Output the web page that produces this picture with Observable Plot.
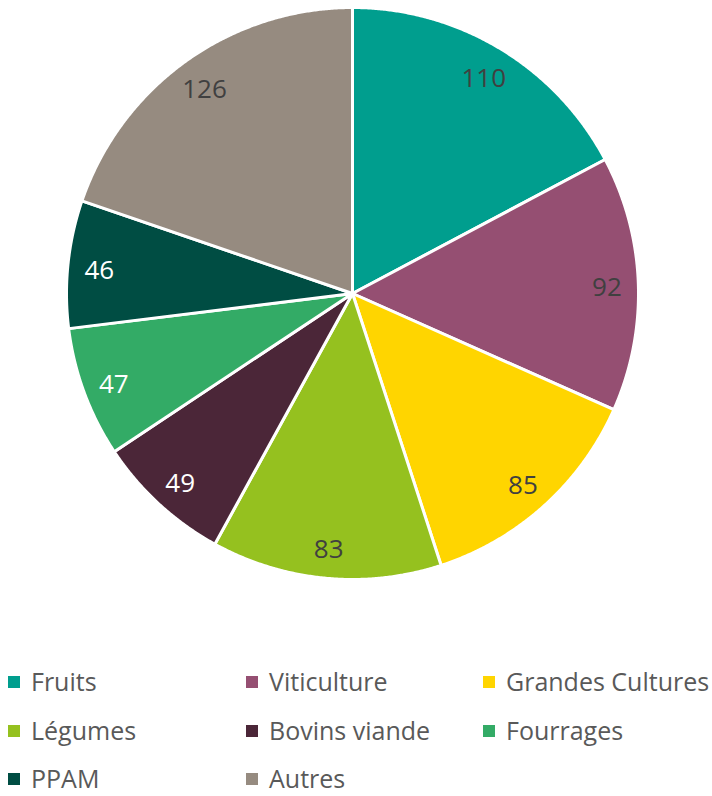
<!DOCTYPE html>
<html>
<head>
<meta charset="utf-8">
<script src="https://cdn.jsdelivr.net/npm/d3@7"></script>
<script src="https://cdn.jsdelivr.net/npm/@observablehq/plot@0.6"></script>
<style>
  body { margin: 0; background: #fff; font-family: "Open Sans", sans-serif; }
  #wrap { position: relative; width: 712px; height: 796px; overflow: hidden; }
  #legend { position: absolute; left: 0; top: 0; width: 712px; }
  .item { position: absolute; display: flex; align-items: center; font-size: 25px; color: #595959; white-space: nowrap; line-height: 1; }
  .sw { width: 12px; height: 12px; margin-right: 11px; flex: none; }
</style>
</head>
<body>
<div id="wrap"><div id="chart"></div><div id="legend"></div></div>
<script>
const categories = ["Fruits", "Viticulture", "Grandes Cultures", "Légumes", "Bovins viande", "Fourrages", "PPAM", "Autres"];
const values = [110, 92, 85, 83, 49, 47, 46, 126];
const palette = ["#009E8E", "#954F72", "#FFD500", "#95C11F", "#4B2638", "#33AB66", "#004D43", "#968B80"];
const darkSlices = ["Bovins viande", "Fourrages", "PPAM"];

const table = categories.map((c, i) => ({category: c, value: values[i]}));
const arcs = d3.pie().sort(null).value(d => d.value)(table);

// polygon outlines of slices in unit coordinates (angle 0 at top, clockwise)
const outline = [];
for (const a of arcs) {
  const c = a.data.category;
  outline.push({category: c, x: 0, y: 0});
  const n = Math.max(2, Math.ceil((a.endAngle - a.startAngle) / 0.005));
  for (let k = 0; k <= n; k++) {
    const t = a.startAngle + (a.endAngle - a.startAngle) * k / n;
    outline.push({category: c, x: Math.sin(t), y: Math.cos(t)});
  }
}
const labels = arcs.map(a => {
  const t = (a.startAngle + a.endAngle) / 2;
  const r = 0.89;
  return {category: a.data.category, value: a.data.value, x: r * Math.sin(t), y: r * Math.cos(t)};
});

const chart = Plot.plot({
  width: 712,
  height: 600,
  marginLeft: 66,
  marginRight: 74,
  marginTop: 7,
  marginBottom: 21,
  x: {domain: [-1, 1], axis: null},
  y: {domain: [-1, 1], axis: null},
  color: {domain: categories, range: palette},
  style: {fontFamily: "Open Sans, sans-serif", background: "white"},
  marks: [
    Plot.line(outline, {x: "x", y: "y", z: "category", fill: "category", stroke: "white", strokeWidth: 3, strokeLinejoin: "round", curve: "linear-closed"}),
    Plot.text(labels, {x: "x", y: "y", dy: 3, text: d => String(d.value), fontSize: 26, fill: d => darkSlices.includes(d.category) ? "#ffffff" : "#404040"})
  ]
});
document.getElementById("chart").appendChild(chart);

// legend
const legendX = [8, 246, 483];
const legendY = [682, 731, 779];
const legend = document.getElementById("legend");
categories.forEach((c, i) => {
  const el = document.createElement("div");
  el.className = "item";
  el.style.left = legendX[i % 3] + "px";
  el.style.top = (legendY[Math.floor(i / 3)] - 13) + "px";
  el.innerHTML = `<span class="sw" style="background:${palette[i]}"></span><span>${c}</span>`;
  legend.appendChild(el);
});
</script>
</body>
</html>
